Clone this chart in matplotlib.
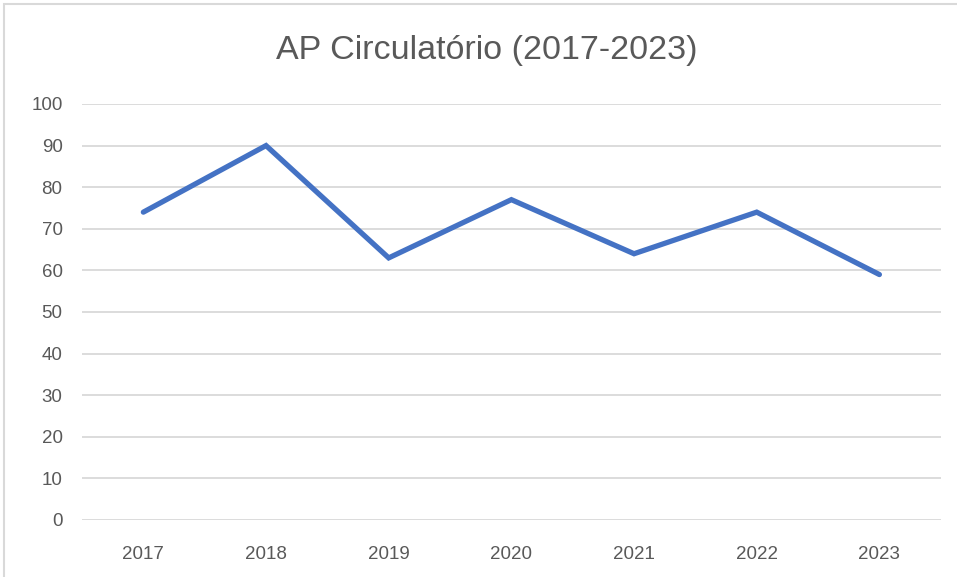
import matplotlib
matplotlib.use('Agg')
import matplotlib.pyplot as plt
from matplotlib.patches import Rectangle

# data
years = ['2017', '2018', '2019', '2020', '2021', '2022', '2023']
values = [74, 90, 63, 77, 64, 74, 59]
yticks = [0, 10, 20, 30, 40, 50, 60, 70, 80, 90, 100]

plt.rcParams['font.family'] = ['Liberation Sans', 'DejaVu Sans']

fig = plt.figure(figsize=(9.57, 5.77), dpi=100)
ax = fig.add_axes([0.0857, 0.0988, 0.8973, 0.721])

# chart border (light gray, top and left visible)
fig.patches.append(Rectangle((4 / 957, -0.1), 1.2, (577 - 4) / 577 + 0.1,
                             transform=fig.transFigure, fill=False,
                             edgecolor='#D9D9D9', linewidth=1.5))

x = list(range(len(years)))
ax.plot(x, values, color='#4472C4', linewidth=3.8, solid_capstyle='round',
        solid_joinstyle='miter', zorder=3)

ax.set_xlim(-0.5, len(years) - 0.5)
ax.set_ylim(0, 100)
ax.set_yticks(yticks)
ax.set_xticks(x)
ax.set_xticklabels(years)
ax.grid(axis='y', color='#D9D9D9', linewidth=1.3)
ax.set_axisbelow(True)
for s in ax.spines.values():
    s.set_visible(False)
ax.tick_params(length=0, colors='#595959', labelsize=13.5)
ax.tick_params(axis='x', pad=19)
ax.tick_params(axis='y', pad=14)

fig.text(487 / 957, 1 - 51 / 577, 'AP Circulatório (2017-2023)', ha='center', va='center',
         fontsize=24.5, color='#595959')

fig.savefig('out.png', dpi=100)
